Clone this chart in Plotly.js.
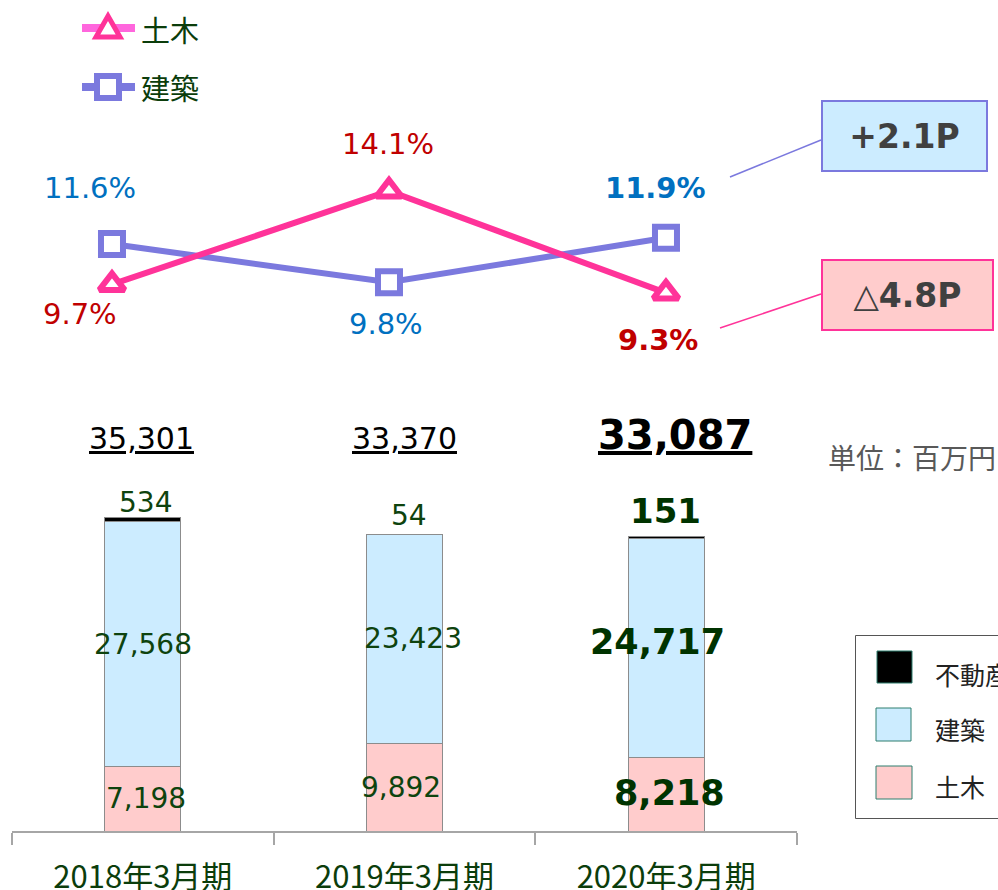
<!DOCTYPE html>
<html>
<head>
<meta charset="utf-8">
<script src="https://cdn.plot.ly/plotly-3.0.1.min.js"></script>
<style>html,body{margin:0;padding:0;background:#fff;}#chart{width:998px;height:890px;}</style>
</head>
<body>
<div id="chart"></div>
<script>
// ---- data ----
const categories = ['2018年3月期', '2019年3月期', '2020年3月期'];
const civilSales = [7198, 9892, 8218];          // 土木
const buildingSales = [27568, 23423, 24717];    // 建築
const realEstateSales = [534, 54, 151];         // 不動産
const totalSales = [35301, 33370, 33087];
const civilMargin = [9.7, 14.1, 9.3];           // 土木 %
const buildingMargin = [11.6, 9.8, 11.9];       // 建築 %
const diffLabels = ['+2.1P', '△4.8P'];
const seriesNames = ['土木', '建築', '不動産'];
const unitLabel = '単位：百万円';

// ---- helpers ----
const W = 998, H = 890;
const PX = p => p / W;
const PY = p => 1 - p / H;
const fmt = v => v.toLocaleString('en-US');
const pct = v => v.toFixed(1) + '%';

const NUM = 'DejaVu Sans';
const JP = 'Noto Sans CJK JP';
const PINK = '#FF3399', PURPLE = '#7B79DE';
const RED = '#C00000', BLUE = '#0070C0', GREEN = '#0E430E', DGREEN = '#003300';
const C_CIVIL = '#FFCCCC', C_BUILD = '#CCECFF', C_RE = '#000000';
const last = categories.length - 1;

const barLine = {color: '#8c8c8c', width: 1};
const traces = [
  {type: 'bar', x: categories, y: civilSales, name: seriesNames[0], xaxis: 'x', yaxis: 'y',
   marker: {color: C_CIVIL, line: barLine}, width: 0.29, hoverinfo: 'skip'},
  {type: 'bar', x: categories, y: buildingSales, name: seriesNames[1], xaxis: 'x', yaxis: 'y',
   marker: {color: C_BUILD, line: barLine}, width: 0.29, hoverinfo: 'skip'},
  {type: 'bar', x: categories, y: realEstateSales, name: seriesNames[2], xaxis: 'x', yaxis: 'y',
   marker: {color: C_RE, line: barLine}, width: 0.29, hoverinfo: 'skip'},
  {type: 'scatter', mode: 'lines+markers', x: categories, y: buildingMargin, name: seriesNames[1],
   xaxis: 'x2', yaxis: 'y2', line: {color: PURPLE, width: 6},
   marker: {symbol: 'square', size: 22, color: '#ffffff', line: {color: PURPLE, width: 6}}, cliponaxis: false},
  {type: 'scatter', mode: 'lines+markers', x: categories, y: civilMargin, name: seriesNames[0],
   xaxis: 'x2', yaxis: 'y2', line: {color: PINK, width: 6},
   marker: {symbol: 'triangle-up', size: 22, color: '#ffffff', line: {color: PINK, width: 6}}, cliponaxis: false}
];

const annotations = [];
const A = o => Object.assign({showarrow: false, xanchor: 'center', yanchor: 'middle'}, o);
// bar segment labels
categories.forEach((c, i) => {
  const bold = i === last;
  const f = {family: NUM, size: bold ? 35 : 28, color: bold ? DGREEN : GREEN};
  const t = v => bold ? '<b>' + fmt(v) + '</b>' : fmt(v);
  annotations.push(A({x: c, y: civilSales[i] / 2, xref: 'x', yref: 'y', text: t(civilSales[i]),
    font: f, xshift: [3, -4, 3][i], yshift: [0, 0, 1][i]}));
  annotations.push(A({x: c, y: civilSales[i] + buildingSales[i] / 2, xref: 'x', yref: 'y', text: t(buildingSales[i]),
    font: f, xshift: [0, 8, -9][i], yshift: [0, 0, 6][i]}));
  const top = civilSales[i] + buildingSales[i] + realEstateSales[i];
  annotations.push(A({x: c, y: top, xref: 'x', yref: 'y', text: t(realEstateSales[i]),
    font: {family: NUM, size: bold ? 34 : 28, color: bold ? DGREEN : GREEN},
    yshift: [15, 19, 26][i], xshift: [3, 4, -1][i]}));
  // totals
  annotations.push(A({x: c, y: PY(bold ? 435 : 438), xref: 'x', yref: 'paper',
    text: bold ? '<b>' + fmt(totalSales[i]) + '</b>' : fmt(totalSales[i]),
    xshift: [-1, 0, 9][i],
    font: {family: NUM, size: bold ? 40 : 30, color: '#000000', lineposition: 'under'}}));
});

// margin labels
const bOff = [[-22, 56], [-3, -42], [-10, 50]];
const cOff = [[-32, -30], [-1, 47], [-8, -47]];
categories.forEach((c, i) => {
  const bold = i === last;
  annotations.push(A({x: c, y: buildingMargin[i], xref: 'x2', yref: 'y2',
    text: bold ? '<b>' + pct(buildingMargin[i]) + '</b>' : pct(buildingMargin[i]),
    xshift: bOff[i][0], yshift: bOff[i][1],
    font: {family: NUM, size: 29, color: BLUE}}));
  annotations.push(A({x: c, y: civilMargin[i], xref: 'x2', yref: 'y2',
    text: bold ? '<b>' + pct(civilMargin[i]) + '</b>' : pct(civilMargin[i]),
    xshift: cOff[i][0], yshift: cOff[i][1],
    font: {family: NUM, size: 29, color: RED}}));
});

// difference boxes
annotations.push(A({x: PX(904), y: PY(136.5), xref: 'paper', yref: 'paper', text: '<b>' + diffLabels[0] + '</b>',
  width: 163, height: 68, borderpad: 0, bgcolor: '#CCECFF', bordercolor: PURPLE, borderwidth: 2,
  font: {family: NUM, size: 33, color: '#404040'}}));
annotations.push(A({x: PX(907), y: PY(294.5), xref: 'paper', yref: 'paper', text: '<b>' + diffLabels[1] + '</b>',
  width: 169, height: 68, borderpad: 0, bgcolor: '#FFCCCC', bordercolor: PINK, borderwidth: 2,
  font: {family: NUM, size: 33, color: '#404040'}}));

// unit
annotations.push(A({x: PX(826), y: PY(457), xref: 'paper', yref: 'paper', xanchor: 'left', text: unitLabel,
  font: {family: JP, size: 28, color: '#595959'}}));

// top legend text
annotations.push(A({x: PX(139), y: PY(29), xref: 'paper', yref: 'paper', xanchor: 'left', text: seriesNames[0],
  font: {family: JP, size: 29, color: '#0B3D0B'}}));
annotations.push(A({x: PX(139), y: PY(87), xref: 'paper', yref: 'paper', xanchor: 'left', text: seriesNames[1],
  font: {family: JP, size: 29, color: '#0B3D0B'}}));

// right legend text
[[seriesNames[2], 674], [seriesNames[1], 729], [seriesNames[0], 786]].forEach(([t, y]) => {
  annotations.push(A({x: PX(933), y: PY(y), xref: 'paper', yref: 'paper', xanchor: 'left', text: t,
    font: {family: JP, size: 25, color: '#222222'}}));
});

const P = (x, y) => PX(x) + ',' + PY(y);
const shapes = [
  // connectors
  {type: 'line', xref: 'paper', yref: 'paper', x0: PX(730), y0: PY(177), x1: PX(821), y1: PY(140), line: {color: PURPLE, width: 1.5}},
  {type: 'line', xref: 'paper', yref: 'paper', x0: PX(720), y0: PY(328), x1: PX(821), y1: PY(294), line: {color: PINK, width: 1.5}},
  // top legend
  {type: 'line', xref: 'paper', yref: 'paper', x0: PX(82), y0: PY(28), x1: PX(135), y1: PY(28), line: {color: '#FF66DD', width: 8}},
  {type: 'path', xref: 'paper', yref: 'paper', path: 'M' + P(96, 37) + 'L' + P(120, 37) + 'L' + P(108, 16) + 'Z',
   fillcolor: '#ffffff', line: {color: PINK, width: 5}},
  {type: 'line', xref: 'paper', yref: 'paper', x0: PX(82), y0: PY(87), x1: PX(135), y1: PY(87), line: {color: PURPLE, width: 8}},
  {type: 'rect', xref: 'paper', yref: 'paper', x0: PX(97), y0: PY(76), x1: PX(119), y1: PY(98),
   fillcolor: '#ffffff', line: {color: PURPLE, width: 6}},
  // right legend box
  {type: 'rect', xref: 'paper', yref: 'paper', x0: PX(855.5), y0: PY(635.5), x1: PX(1010), y1: PY(818.5),
   fillcolor: '#ffffff', line: {color: '#555555', width: 1}, layer: 'below'},
  {type: 'rect', xref: 'paper', yref: 'paper', x0: PX(877), y0: PY(651), x1: PX(912), y1: PY(683),
   fillcolor: C_RE, line: {color: '#2F7F6F', width: 1}},
  {type: 'rect', xref: 'paper', yref: 'paper', x0: PX(876), y0: PY(708), x1: PX(911), y1: PY(741),
   fillcolor: C_BUILD, line: {color: '#2F7F6F', width: 1}},
  {type: 'rect', xref: 'paper', yref: 'paper', x0: PX(876), y0: PY(766), x1: PX(912), y1: PY(799),
   fillcolor: C_CIVIL, line: {color: '#2F7F6F', width: 1}}
];

const layout = {
  width: W, height: H,
  margin: {l: 0, r: 0, t: 0, b: 0},
  paper_bgcolor: '#ffffff', plot_bgcolor: 'rgba(0,0,0,0)',
  showlegend: false,
  barmode: 'stack',
  xaxis: {domain: [PX(12), PX(797)], type: 'category', range: [-0.5, 2.5], anchor: 'y',
    showline: true, linecolor: '#a6a6a6', linewidth: 2, ticks: 'outside', tickson: 'boundaries',
    ticklen: 12, tickwidth: 2, tickcolor: '#a6a6a6', showgrid: false, zeroline: false,
    ticklabelstandoff: 18, tickfont: {family: JP, size: 31, color: '#0B3D0B'}},
  yaxis: {domain: [PY(831), PY(500)], range: [0, 331 / 0.008895], visible: false, anchor: 'x'},
  xaxis2: {domain: [PX(12), PX(797)], type: 'category', range: [-0.361, 2.473], anchor: 'y2', visible: false},
  yaxis2: {domain: [PY(363), PY(150.6)], range: [6, 16], anchor: 'x2', visible: false},
  annotations: annotations,
  shapes: shapes
};

Plotly.newPlot('chart', traces, layout, {staticPlot: true});
</script>
</body>
</html>
